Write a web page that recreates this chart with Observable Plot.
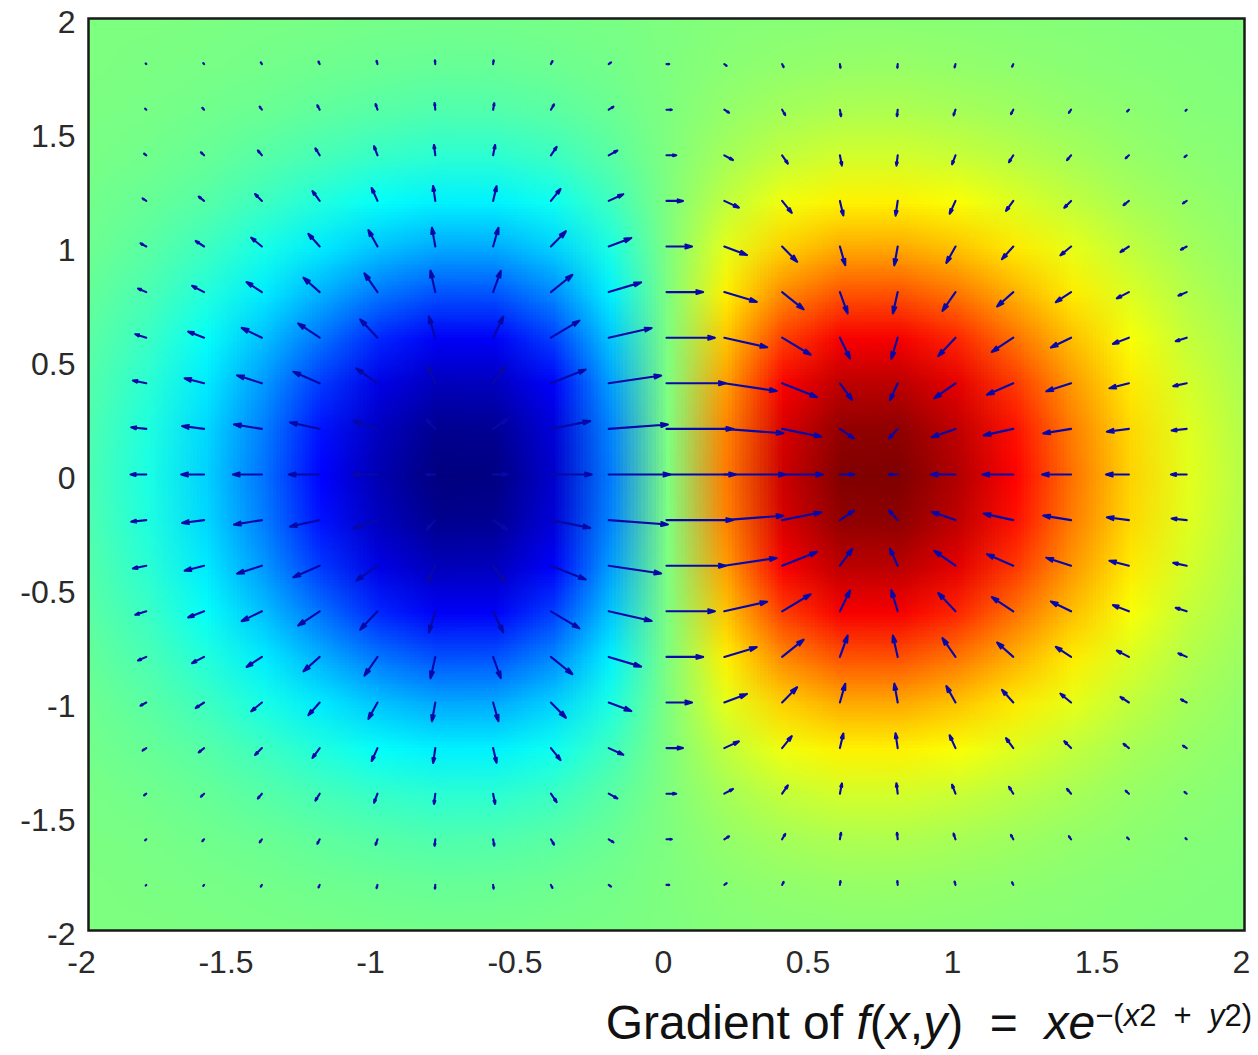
<!DOCTYPE html>
<html>
<head>
<meta charset="utf-8">
<script src="https://cdn.jsdelivr.net/npm/d3@7"></script>
<script src="https://cdn.jsdelivr.net/npm/@observablehq/plot@0.6"></script>
<style>
html,body{margin:0;padding:0;background:#fff;overflow:hidden}
svg{display:block}
#cap{font-family:"Liberation Sans",Arial,sans-serif;font-size:48px;color:#111;text-align:right;padding-right:6px;white-space:nowrap;line-height:76px;height:70px}
#cap sup{font-size:31px;line-height:0;vertical-align:baseline;position:relative;top:-13px}
#cap i{font-style:italic}
</style>
</head>
<body>
<div id="chart"></div>
<div id="cap">Gradient of <i>f</i>(<i>x</i>,<i>y</i>)&nbsp; =&nbsp; <i>xe</i><sup>−(<i>x</i>2 &nbsp;+&nbsp; <i>y</i>2)</sup></div>
<script>
// Surface values, thousandths, rows from y = 2 down to y = -2, columns x = -2 .. 2 (step 0.2)
const surface = [
[-1,-1,-2,-4,-5,-7,-8,-8,-6,-4,0,4,6,8,8,7,5,4,2,1,1],
[-1,-3,-5,-8,-11,-14,-17,-16,-13,-8,0,8,13,16,17,14,11,8,5,3,1],
[-3,-5,-10,-15,-22,-28,-33,-32,-26,-15,0,15,26,32,33,28,22,15,10,5,3],
[-5,-10,-17,-28,-40,-52,-59,-59,-48,-27,0,27,48,59,59,52,40,28,17,10,5],
[-9,-17,-29,-47,-67,-87,-100,-99,-81,-46,0,46,81,99,100,87,67,47,29,17,9],
[-13,-26,-46,-73,-105,-135,-155,-154,-125,-71,0,71,125,154,155,135,105,73,46,26,13],
[-19,-37,-65,-104,-150,-194,-222,-221,-180,-101,0,101,180,221,222,194,150,104,65,37,19],
[-26,-49,-86,-138,-198,-257,-294,-292,-238,-134,0,134,238,292,294,257,198,138,86,49,26],
[-31,-60,-105,-168,-242,-313,-359,-357,-290,-164,0,164,290,357,359,313,242,168,105,60,31],
[-35,-68,-119,-189,-273,-353,-405,-402,-328,-185,0,185,328,402,405,353,273,189,119,68,35],
[-37,-71,-124,-197,-284,-368,-422,-419,-341,-192,0,192,341,419,422,368,284,197,124,71,37],
[-35,-68,-119,-189,-273,-353,-405,-402,-328,-185,0,185,328,402,405,353,273,189,119,68,35],
[-31,-60,-105,-168,-242,-313,-359,-357,-290,-164,0,164,290,357,359,313,242,168,105,60,31],
[-26,-49,-86,-138,-198,-257,-294,-292,-238,-134,0,134,238,292,294,257,198,138,86,49,26],
[-19,-37,-65,-104,-150,-194,-222,-221,-180,-101,0,101,180,221,222,194,150,104,65,37,19],
[-13,-26,-46,-73,-105,-135,-155,-154,-125,-71,0,71,125,154,155,135,105,73,46,26,13],
[-9,-17,-29,-47,-67,-87,-100,-99,-81,-46,0,46,81,99,100,87,67,47,29,17,9],
[-5,-10,-17,-28,-40,-52,-59,-59,-48,-27,0,27,48,59,59,52,40,28,17,10,5],
[-3,-5,-10,-15,-22,-28,-33,-32,-26,-15,0,15,26,32,33,28,22,15,10,5,3],
[-1,-3,-5,-8,-11,-14,-17,-16,-13,-8,0,8,13,16,17,14,11,8,5,3,1],
[-1,-1,-2,-4,-5,-7,-8,-8,-6,-4,0,4,6,8,8,7,5,4,2,1,1]
];
// Arrow grid
const arrowXs = [-1.8,-1.6,-1.4,-1.2,-1,-0.8,-0.6,-0.4,-0.2,0,0.2,0.4,0.6,0.8,1,1.2,1.4,1.6,1.8];
const arrowYs = [1.8,1.6,1.4,1.2,1,0.8,0.6,0.4,0.2,0,-0.2,-0.4,-0.6,-0.8,-1,-1.2,-1.4,-1.6,-1.8];
// Horizontal arrow components, thousandths; null = no arrow visible
const arrowU = [
[-9,-12,-16,-17,-13,-5,8,22,33,38,33,22,8,-5,-13,-17,null,null,null],
[-17,-25,-31,-33,-27,-10,16,44,66,74,66,44,16,-10,-27,-33,-31,-25,-17],
[-31,-45,-57,-60,-48,-18,28,80,120,135,120,80,28,-18,-48,-60,-57,-45,-31],
[-52,-75,-95,-101,-81,-30,48,134,202,228,202,134,48,-30,-81,-101,-95,-75,-52],
[-80,-117,-148,-157,-127,-47,74,208,313,354,313,208,74,-47,-127,-157,-148,-117,-80],
[-115,-167,-212,-225,-181,-67,107,298,449,507,449,298,107,-67,-181,-225,-212,-167,-115],
[-152,-221,-280,-298,-240,-89,141,395,594,670,594,395,141,-89,-240,-298,-280,-221,-152],
[-186,-270,-343,-364,-293,-108,172,482,726,819,726,482,172,-108,-293,-364,-343,-270,-186],
[-209,-305,-386,-410,-331,-122,194,544,819,923,819,544,194,-122,-331,-410,-386,-305,-209],
[-218,-317,-402,-427,-344,-127,202,566,852,961,852,566,202,-127,-344,-427,-402,-317,-218],
[-209,-305,-386,-410,-331,-122,194,544,819,923,819,544,194,-122,-331,-410,-386,-305,-209],
[-186,-270,-343,-364,-293,-108,172,482,726,819,726,482,172,-108,-293,-364,-343,-270,-186],
[-152,-221,-280,-298,-240,-89,141,395,594,670,594,395,141,-89,-240,-298,-280,-221,-152],
[-115,-167,-212,-225,-181,-67,107,298,449,507,449,298,107,-67,-181,-225,-212,-167,-115],
[-80,-117,-148,-157,-127,-47,74,208,313,354,313,208,74,-47,-127,-157,-148,-117,-80],
[-52,-75,-95,-101,-81,-30,48,134,202,228,202,134,48,-30,-81,-101,-95,-75,-52],
[-31,-45,-57,-60,-48,-18,28,80,120,135,120,80,28,-18,-48,-60,-57,-45,-31],
[-17,-25,-31,-33,-27,-10,16,44,66,74,66,44,16,-10,-27,-33,-31,-25,-17],
[-9,-12,-16,-17,-13,-5,8,22,33,38,33,22,8,-5,-13,-17,null,null,null]
];
// Vertical arrow components, thousandths
const arrowV = [
[10,18,29,42,54,62,62,50,28,0,-28,-50,-62,-62,-54,-42,null,null,null],
[18,31,50,72,93,107,106,87,49,0,-49,-87,-106,-107,-93,-72,-50,-31,-18],
[28,49,79,113,147,168,167,136,77,0,-77,-136,-167,-168,-147,-113,-79,-49,-28],
[40,70,112,161,209,240,238,194,109,0,-109,-194,-238,-240,-209,-161,-112,-70,-40],
[51,90,143,206,267,306,304,248,139,0,-139,-248,-304,-306,-267,-206,-143,-90,-51],
[58,102,163,234,304,348,346,281,158,0,-158,-281,-346,-348,-304,-234,-163,-102,-58],
[57,100,160,231,299,343,340,277,156,0,-156,-277,-340,-343,-299,-231,-160,-100,-57],
[46,81,130,187,242,278,275,224,126,0,-126,-224,-275,-278,-242,-187,-130,-81,-46],
[26,46,73,105,136,156,155,126,71,0,-71,-126,-155,-156,-136,-105,-73,-46,-26],
[0,0,0,0,0,0,0,0,0,0,0,0,0,0,0,0,0,0,0],
[-26,-46,-73,-105,-136,-156,-155,-126,-71,0,71,126,155,156,136,105,73,46,26],
[-46,-81,-130,-187,-242,-278,-275,-224,-126,0,126,224,275,278,242,187,130,81,46],
[-57,-100,-160,-231,-299,-343,-340,-277,-156,0,156,277,340,343,299,231,160,100,57],
[-58,-102,-163,-234,-304,-348,-346,-281,-158,0,158,281,346,348,304,234,163,102,58],
[-51,-90,-143,-206,-267,-306,-304,-248,-139,0,139,248,304,306,267,206,143,90,51],
[-40,-70,-112,-161,-209,-240,-238,-194,-109,0,109,194,238,240,209,161,112,70,40],
[-28,-49,-79,-113,-147,-168,-167,-136,-77,0,77,136,167,168,147,113,79,49,28],
[-18,-31,-50,-72,-93,-107,-106,-87,-49,0,49,87,106,107,93,72,50,31,18],
[-10,-18,-29,-42,-54,-62,-62,-50,-28,0,28,50,62,62,54,42,null,null,null]
];
const xTicksNeg = [-2,-1.5,-1,-0.5];
const xTicksPos = [0,0.5,1,1.5,2];
const yTicks = [-2,-1.5,-1,-0.5,0,0.5,1,1.5,2];
const jetStops = [-422,-285,-90,0,90,285,422];
const jetColors = ["#00007f","#0000ff","#00ffff","#7fff7f","#ffff00","#ff0000","#7f0000"];

const arrows = [];
arrowYs.forEach((y,r)=>arrowXs.forEach((x,c)=>{
  if (arrowU[r][c]!=null) arrows.push({x,y,u:arrowU[r][c]/1000,v:arrowV[r][c]/1000});
}));
const reachX = 0.25, reachY = 0.27;

const axisFont = {fontSize:32, tickSize:0, label:null, fill:"#2a2a2a", fontFamily:"Liberation Sans, Arial, sans-serif", tickFormat:d=>String(d)};
const chart = Plot.plot({
  width:1258, height:985,
  marginLeft:88, marginRight:14, marginTop:18, marginBottom:55,
  style:{background:"#fff", overflow:"visible"},
  x:{domain:[-2,2]},
  y:{domain:[-2,2]},
  color:{type:"linear", domain:jetStops, range:jetColors},
  marks:[
    Plot.raster(surface.flat(), {x1:-2.1, x2:2.1, y1:2.1, y2:-2.1, width:21, height:21, fill:d=>d, clip:true}),
    Plot.arrow(arrows, {x1:"x", y1:"y", x2:d=>d.x+d.u*reachX, y2:d=>d.y+d.v*reachY,
      stroke:"#0808a8", strokeWidth:2.1, headLength:5, headAngle:32, bend:0}),
    Plot.frame({stroke:"#1a1a1a", strokeWidth:2.5}),
    Plot.axisY({...axisFont, ticks:yTicks, anchor:"left", tickPadding:13, dy:4}),
    Plot.axisX({...axisFont, ticks:xTicksPos, anchor:"bottom", tickPadding:20, dx:-3}),
    Plot.axisX({...axisFont, ticks:xTicksNeg, anchor:"bottom", tickPadding:20, dx:-7})
  ]
});
document.getElementById("chart").appendChild(chart);
</script>
</body>
</html>
